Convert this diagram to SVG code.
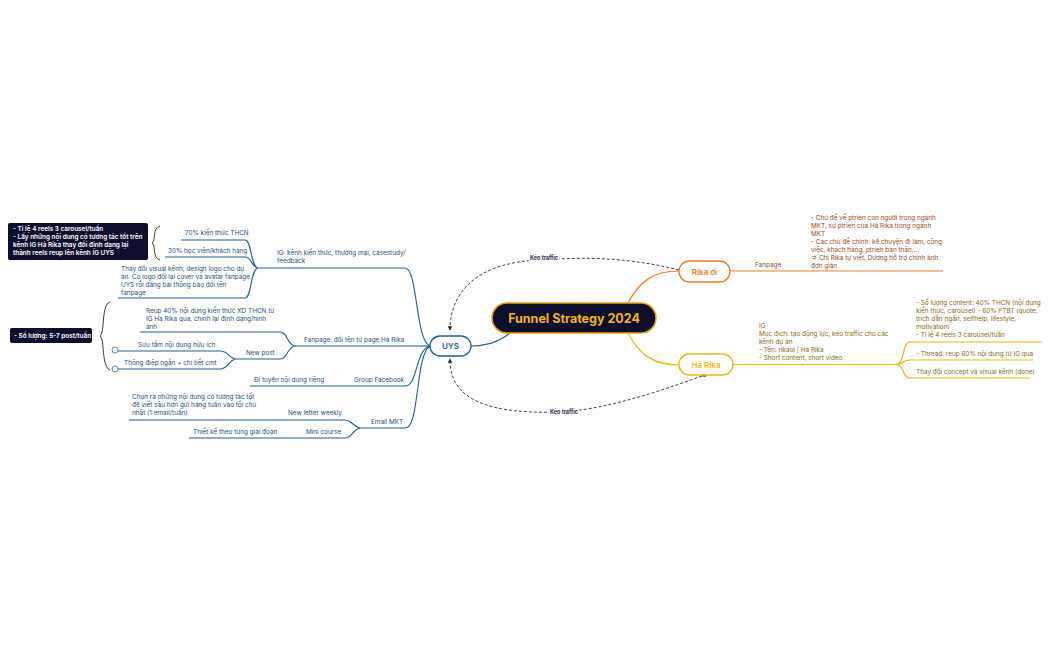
<svg xmlns="http://www.w3.org/2000/svg" width="1050" height="650" viewBox="0 0 1050 650">
<style>
text{font-family:Inter,"Open Sans","Noto Sans",sans-serif;font-size:6.4px}
.b{fill:#1c4f86}.bl{stroke:#1c5ea0;fill:none;stroke-width:1.1}
.o{fill:#9a4a1a}.ol{stroke:#f57c20;fill:none;stroke-width:1.2}
.y{fill:#8a6a10}.yl{stroke:#f5b700;fill:none;stroke-width:1.2}
.w{fill:#fff;font-weight:600}
.d{stroke:#2a2a4a;fill:none;stroke-width:0.9;stroke-dasharray:3 2}
.lab{font-size:5.5px;font-weight:700;fill:#2a2a4a}
</style>
<defs><marker id="ar" viewBox="0 0 6 6" refX="5" refY="3" markerWidth="5" markerHeight="5" orient="auto"><path d="M0,0L6,3L0,6z" fill="#2a2a4a"/></marker></defs>
<rect width="1050" height="650" fill="#fff"/>
<g id="connectors">
<path class="ol" d="M628,303 C640,280 655,271 679,271"/>
<path class="yl" d="M628,333 C640,356 655,365 679,365"/>
<path class="bl" d="M510,333 C495,345 480,346 471,346"/>
<path class="ol" d="M730,271 H943"/>
<path class="yl" d="M733,364.5 H896"/>
<path class="yl" d="M896,364.5 C905,364 902,342 910,342 H1042 M896,364.5 C905,364 902,360 910,360 H1033 M896,364.5 C905,365 902,378 910,378 H1030"/>
<path class="bl" d="M430,346 C415,340 418,268 405,268 H258 M430,346 C418,346 418,346 410,346 H295 M430,346 C415,350 418,386 405,386 H250 M430,346 C415,355 420,428 405,428 H360"/>
<path class="bl" d="M258,268 C250,266 252,240 245,240 H181 M258,268 C250,266 252,257 245,257 H165 M258,268 C250,270 252,298 245,298 H118"/>
<path class="bl" d="M295,346 C286,344 288,332 280,332 H140 M295,346 C286,348 288,359 280,359 H235"/>
<path class="bl" d="M235,359 C228,357 228,351 220,351 H118 M235,359 C228,361 228,369 220,369 H118"/>
<path class="bl" d="M360,428 C352,426 352,420 345,420 H129 M360,428 C352,430 352,438 345,438 H189"/>
<path class="d" d="M679,270 C620,255 570,258 540,260 C480,262 450,290 450,330" marker-end="url(#ar)"/>
<path class="d" d="M702,376 C650,395 600,410 560,412 C470,415 450,390 450,359" marker-start="url(#ar)" marker-end="url(#ar)"/>
<path d="M160,226 C152,228 156,241 152,243 C156,245 152,258 160,260 M110,302 C101,305 105,333 100,336 C105,339 101,366 110,370" stroke="#222" fill="none" stroke-width="0.9"/>
<circle cx="115" cy="350" r="3" fill="#fff" stroke="#1c5ea0" stroke-width="0.7"/>
<circle cx="115" cy="369" r="3" fill="#fff" stroke="#1c5ea0" stroke-width="0.7"/>
</g>
<text class="lab" x="544" y="260" text-anchor="middle" style="paint-order:stroke;stroke:#fff;stroke-width:3">Kéo traffic</text>
<text class="lab" x="564" y="414" text-anchor="middle" style="paint-order:stroke;stroke:#fff;stroke-width:3">Kéo traffic</text>
<g id="center"><rect x="492" y="303" width="164" height="30" rx="15" fill="#0d0d2e" stroke="#f5a000" stroke-width="1.5"/><text x="574" y="322.5" text-anchor="middle" style="font-size:12.5px;font-weight:700;fill:#f5b700">Funnel Strategy 2024</text></g>
<g id="uys"><rect x="430" y="336" width="41" height="20" rx="10" fill="#fff" stroke="#1c5ea0" stroke-width="1.3"/><text x="450.5" y="349" text-anchor="middle" style="font-size:8px;font-weight:600;fill:#1c5ea0">UYS</text></g>
<g id="rika"><rect x="679" y="261" width="51" height="21" rx="10.5" fill="#fff" stroke="#f57c20" stroke-width="1.3"/><text x="704.5" y="274.5" text-anchor="middle" style="font-size:8px;font-weight:600;fill:#f57c20">Rika ơi</text></g>
<g id="harika"><rect x="679" y="354" width="54" height="21" rx="10.5" fill="#fff" stroke="#f5b700" stroke-width="1.3"/><text x="706" y="367.5" text-anchor="middle" style="font-size:8px;font-weight:600;fill:#f5b700">Hà Rika</text></g>
<g id="fanpage-rika" class="o"><text x="755" y="267">Fanpage</text>
<text x="811" y="220">- Chủ đề về ptrien con người trong ngành</text><text x="811" y="228">MKT, sự ptrien của Hà Rika trong ngành</text><text x="811" y="236">MKT</text><text x="811" y="244">- Các chủ đề chính: kể chuyện đi làm, công</text><text x="811" y="252">việc, khách hàng, ptrien bản thân,...</text><text x="811" y="260">=&gt; Chị Rika tự viết, Dương hỗ trợ chỉnh ảnh</text><text x="811" y="268">đơn giản</text></g>
<g id="ig-harika" class="y"><text x="759" y="328">IG</text><text x="759" y="336">Mục đích: tạo động lực, kéo traffic cho các</text><text x="759" y="344">kênh dự án</text><text x="759" y="352">- Tên: rikaoi | Hà Rika</text><text x="759" y="360">- Short content, short video</text>
<text x="916" y="305">- Số lượng content: 40% THCN (nội dung</text><text x="916" y="313">kiến thức, carousel) - 60% PTBT (quote,</text><text x="916" y="321">trích dẫn ngắn, selfhelp, lifestyle,</text><text x="916" y="329">motivation)</text><text x="916" y="337">- Tỉ lệ 4 reels 3 carousel/tuần</text>
<text x="916" y="356">- Thread: reup 60% nội dung từ IG qua</text><text x="916" y="374">Thay đổi concept và visual kênh (done)</text></g>
<g id="ig-uys" class="b"><text x="277" y="255">IG: kênh kiến thức, thương mại, casestudy/</text><text x="277" y="263">feedback</text>
<text x="185" y="235">70% kiến thức THCN</text><text x="168" y="253">30% học viên/khách hàng</text>
<text x="121" y="271">Thay đổi visual kênh, design logo cho dự</text><text x="121" y="279">án. Có logo đổi lại cover và avatar fanpage</text><text x="121" y="287">UYS rồi đăng bài thông báo đổi tên</text><text x="121" y="295">fanpage</text></g>
<g id="note1"><rect x="8" y="223" width="140" height="37" rx="2" fill="#0d0d2e"/><text class="w" x="13" y="231">- Tỉ lệ 4 reels 3 carousel/tuần</text><text class="w" x="13" y="239">- Lấy những nội dung có tương tác tốt trên</text><text class="w" x="13" y="247">kênh IG Hà Rika thay đổi định dạng lại</text><text class="w" x="13" y="255">thành reels reup lên kênh IG UYS</text></g>
<g id="fanpage-uys" class="b"><text x="304" y="342">Fanpage: đổi tên từ page Hà Rika</text>
<text x="146" y="313">Reup 40% nội dung kiến thức XD THCN từ</text><text x="146" y="321">IG Hà Rika qua, chỉnh lại định dạng/hình</text><text x="146" y="329">ảnh</text>
<text x="246" y="355">New post</text><text x="138" y="347">Sưu tầm nội dung hữu ích</text><text x="124" y="365">Thông điệp ngắn + chi tiết cmt</text></g>
<g id="note2"><rect x="10" y="328" width="82" height="15" rx="2" fill="#0d0d2e"/><text class="w" x="14" y="338">- Số lượng: 5-7 post/tuần</text></g>
<g id="group-fb" class="b"><text x="354" y="382">Group Facebook</text><text x="254" y="382">Đi tuyển nội dung riêng</text></g>
<g id="email" class="b"><text x="371" y="424">Email MKT</text><text x="288" y="415">New letter weekly</text>
<text x="132" y="399">Chọn ra những nội dung có tương tác tốt</text><text x="132" y="407">để viết sâu hơn gửi hàng tuần vào tối chủ</text><text x="132" y="415">nhật (1 email/tuần)</text>
<text x="306" y="434">Mini course</text><text x="193" y="434">Thiết kế theo từng giai đoạn</text></g>
</svg>
